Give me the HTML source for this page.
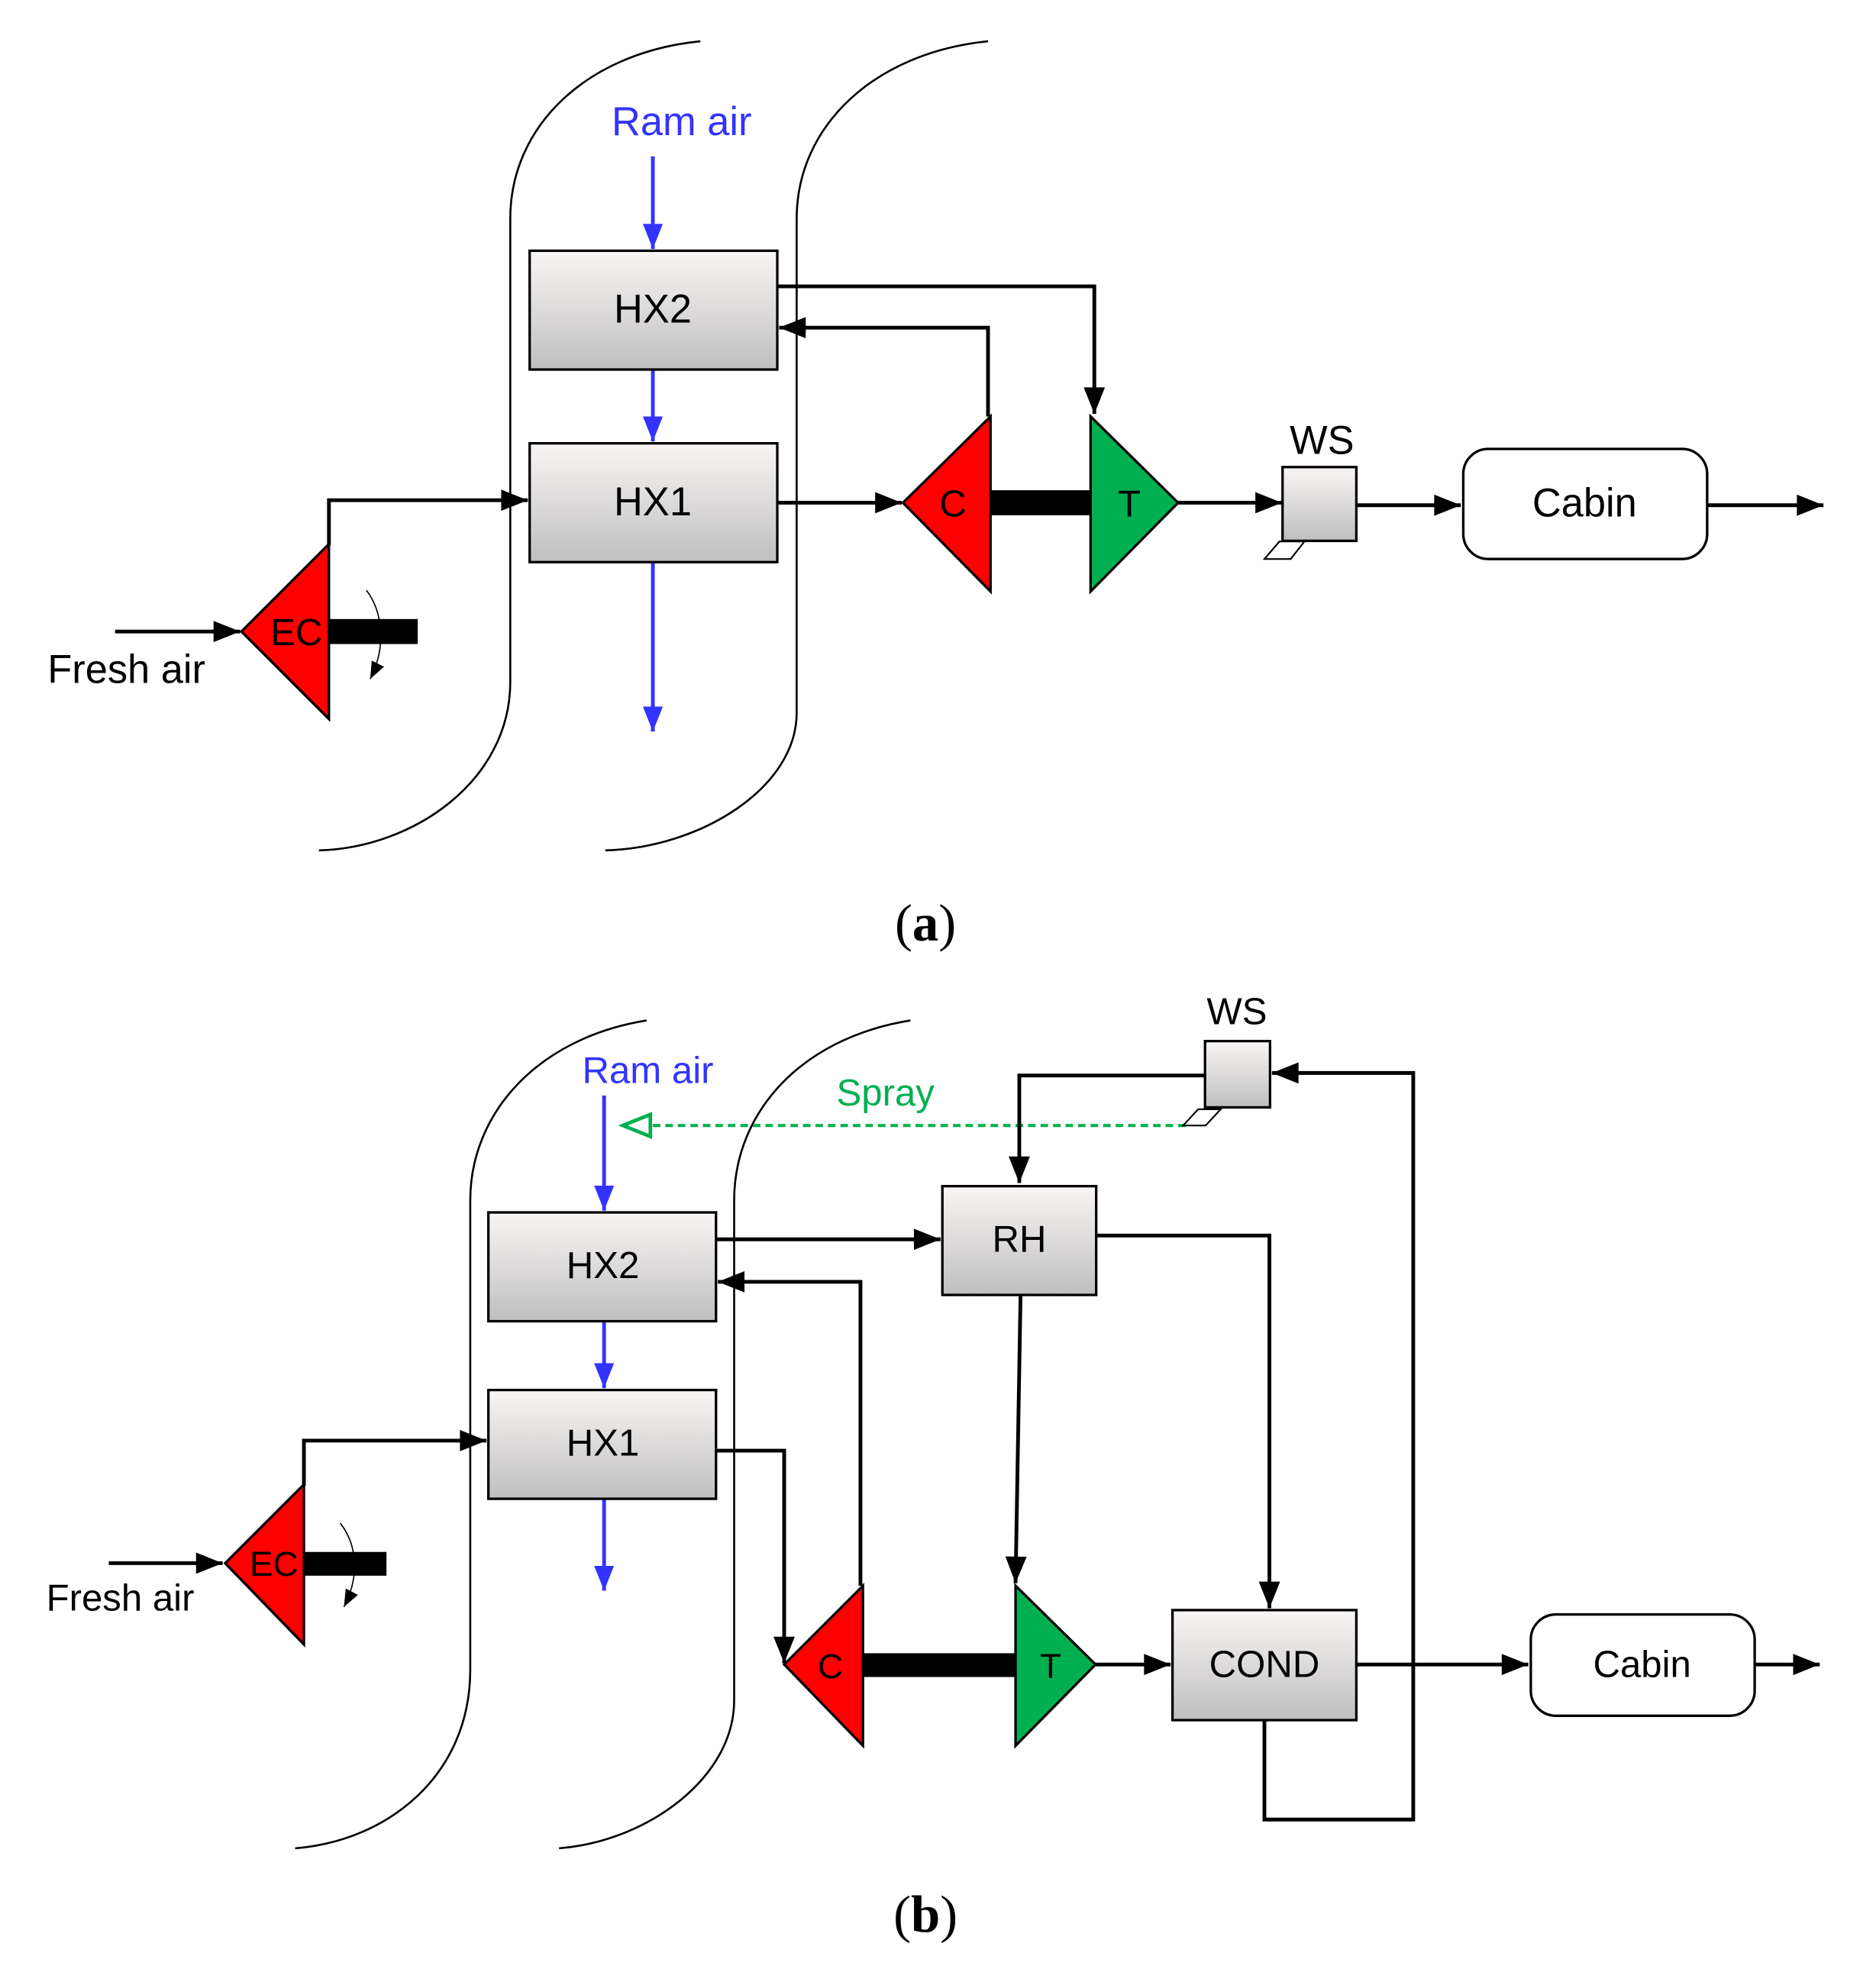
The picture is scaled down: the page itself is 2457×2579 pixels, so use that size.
<!DOCTYPE html>
<html><head><meta charset="utf-8"><style>html,body{margin:0;padding:0;background:#fff}svg{display:block}</style></head>
<body>
<svg xmlns="http://www.w3.org/2000/svg" width="2457" height="2579" viewBox="0 0 1500 1574.5" font-family="'Liberation Sans', 'DejaVu Sans', sans-serif">
<defs>
<linearGradient id="g" x1="0" y1="0" x2="0" y2="1"><stop offset="0" stop-color="#faf5f5"/><stop offset="1" stop-color="#bfbfbf"/></linearGradient>
<marker id="ak" viewBox="0 0 10 8" refX="10" refY="4" markerWidth="24" markerHeight="17" orient="auto" markerUnits="userSpaceOnUse"><path d="M0,0 L10,4 L0,8 Z" fill="#000"/></marker>
<marker id="ab" viewBox="0 0 10 8" refX="10" refY="4" markerWidth="20" markerHeight="16" orient="auto" markerUnits="userSpaceOnUse"><path d="M0,0 L10,4 L0,8 Z" fill="#3333ff"/></marker>
<marker id="ag" viewBox="-1 -1 12 10" refX="10" refY="4" markerWidth="30" markerHeight="22" orient="auto" markerUnits="userSpaceOnUse"><path d="M0,0 L10,4 L0,8 Z" fill="#fff" stroke="#00b050" stroke-width="1.3"/></marker>
<marker id="as" viewBox="0 0 10 8" refX="10" refY="4" markerWidth="14" markerHeight="11" orient="auto" markerUnits="userSpaceOnUse"><path d="M0,0 L10,4 L0,8 Z" fill="#000"/></marker>
</defs>
<g fill="none" stroke="#000" stroke-width="1.6">
<path d="M560,33 C470,42 408,100 408,175 L408,545 C408,625 330,678 255,680"/>
<path d="M790,33 C700,42 637,100 637,175 L637,570 C637,630 560,678 484,680"/>
<path d="M517,816 C430,830 376,890 376,960 L376,1335 C376,1420 310,1472 236,1478"/>
<path d="M728,816 C640,830 587,890 587,960 L587,1360 C587,1420 520,1472 447,1478"/>
</g>
<!-- (a) -->
<text x="545" y="108" font-size="32" fill="#3333ff" text-anchor="middle">Ram air</text>
<g stroke="#3333ff" stroke-width="3" fill="none">
<line x1="522" y1="125" x2="522" y2="199" marker-end="url(#ab)"/>
<line x1="522" y1="296" x2="522" y2="353" marker-end="url(#ab)"/>
<line x1="522" y1="450" x2="522" y2="585" marker-end="url(#ab)"/>
</g>
<rect x="423.5" y="200.5" width="198" height="95" fill="url(#g)" stroke="#000" stroke-width="2"/>
<rect x="423.5" y="354.5" width="198" height="95" fill="url(#g)" stroke="#000" stroke-width="2"/>
<text x="522" y="258" font-size="32" text-anchor="middle">HX2</text>
<text x="522" y="412" font-size="32" text-anchor="middle">HX1</text>
<g stroke="#000" stroke-width="3" fill="none">
<polyline points="622,229 875,229 875,331" marker-end="url(#ak)"/>
<polyline points="790,333 790,262 623,262" marker-end="url(#ak)"/>
<line x1="622" y1="402" x2="721" y2="402" marker-end="url(#ak)"/>
<line x1="942" y1="402" x2="1025" y2="402" marker-end="url(#ak)"/>
<line x1="1085" y1="404" x2="1168" y2="404" marker-end="url(#ak)"/>
<line x1="1365" y1="404" x2="1458" y2="404" marker-end="url(#ak)"/>
<line x1="92" y1="505" x2="192" y2="505" marker-end="url(#ak)"/>
<polyline points="263,436 263,400 422,400" marker-end="url(#ak)"/>
</g>
<polygon points="722,402 792,333 792,473" fill="#ff0000" stroke="#000" stroke-width="2"/>
<rect x="792" y="392" width="80" height="20" fill="#000"/>
<polygon points="872,333 872,473 942,402" fill="#00b050" stroke="#000" stroke-width="2"/>
<text x="762" y="413" font-size="30" text-anchor="middle">C</text>
<text x="903" y="413" font-size="30" text-anchor="middle">T</text>
<rect x="1025.5" y="373.5" width="59" height="59" fill="url(#g)" stroke="#000" stroke-width="2"/>
<polygon points="1011,447 1023,433 1043,433 1032,447" fill="#fff" stroke="#000" stroke-width="1.3"/>
<text x="1057" y="363" font-size="32" text-anchor="middle">WS</text>
<rect x="1170" y="359" width="195" height="88" rx="20" fill="#fff" stroke="#000" stroke-width="2"/>
<text x="1267" y="413" font-size="32" text-anchor="middle">Cabin</text>
<polygon points="193,505 263,435 263,575" fill="#ff0000" stroke="#000" stroke-width="2"/>
<rect x="263" y="495" width="71" height="20" fill="#000"/>
<text x="237" y="516" font-size="30" text-anchor="middle">EC</text>
<text x="38" y="546" font-size="32">Fresh air</text>
<path d="M293,472 C305,488 310,515 296,543" fill="none" stroke="#000" stroke-width="1" marker-end="url(#as)"/>
<text x="740" y="752" font-size="42" text-anchor="middle" font-family="'Liberation Serif', serif">(<tspan font-weight="bold">a</tspan>)</text>
<!-- (b) -->
<text x="518" y="866" font-size="30" fill="#3333ff" text-anchor="middle">Ram air</text>
<g stroke="#3333ff" stroke-width="3" fill="none">
<line x1="483" y1="876" x2="483" y2="968" marker-end="url(#ab)"/>
<line x1="483" y1="1057" x2="483" y2="1110" marker-end="url(#ab)"/>
<line x1="483" y1="1199" x2="483" y2="1272" marker-end="url(#ab)"/>
</g>
<line x1="948" y1="900" x2="498" y2="900" stroke="#00b050" stroke-width="2.5" stroke-dasharray="6,4" marker-end="url(#ag)"/>
<text x="708" y="884" font-size="30" fill="#00b050" text-anchor="middle">Spray</text>
<rect x="390.5" y="969.5" width="182" height="87" fill="url(#g)" stroke="#000" stroke-width="2"/>
<rect x="390.5" y="1111.5" width="182" height="87" fill="url(#g)" stroke="#000" stroke-width="2"/>
<text x="482" y="1022" font-size="30" text-anchor="middle">HX2</text>
<text x="482" y="1164" font-size="30" text-anchor="middle">HX1</text>
<rect x="753.5" y="948.5" width="123" height="87" fill="url(#g)" stroke="#000" stroke-width="2"/>
<text x="815" y="1001" font-size="30" text-anchor="middle">RH</text>
<rect x="963.5" y="832.5" width="52" height="53" fill="url(#g)" stroke="#000" stroke-width="2"/>
<polygon points="946,900 958,887 976,887 964,900" fill="#fff" stroke="#000" stroke-width="1.3"/>
<text x="989" y="819" font-size="30" text-anchor="middle">WS</text>
<rect x="937.5" y="1287.5" width="147" height="88" fill="url(#g)" stroke="#000" stroke-width="2"/>
<text x="1011" y="1341" font-size="30" text-anchor="middle">COND</text>
<rect x="1224" y="1291" width="179" height="81" rx="20" fill="#fff" stroke="#000" stroke-width="2"/>
<text x="1313" y="1341" font-size="30" text-anchor="middle">Cabin</text>
<g stroke="#000" stroke-width="3" fill="none">
<polyline points="963,860 815,860 815,946" marker-end="url(#ak)"/>
<line x1="573" y1="991" x2="752" y2="991" marker-end="url(#ak)"/>
<polyline points="688,1268 688,1025 574,1025" marker-end="url(#ak)"/>
<line x1="816" y1="1036" x2="812" y2="1266" marker-end="url(#ak)"/>
<polyline points="877,988 1015,988 1015,1286" marker-end="url(#ak)"/>
<polyline points="573,1160 627,1160 627,1330" marker-end="url(#ak)"/>
<line x1="876" y1="1331" x2="936" y2="1331" marker-end="url(#ak)"/>
<line x1="1085" y1="1331" x2="1222" y2="1331" marker-end="url(#ak)"/>
<line x1="1403" y1="1331" x2="1455" y2="1331" marker-end="url(#ak)"/>
<polyline points="1011,1376 1011,1455 1130,1455 1130,858 1017,858" marker-end="url(#ak)"/>
<line x1="87" y1="1250" x2="178" y2="1250" marker-end="url(#ak)"/>
<polyline points="243,1188 243,1152 389,1152" marker-end="url(#ak)"/>
</g>
<polygon points="627,1331 690,1268 690,1396" fill="#ff0000" stroke="#000" stroke-width="2"/>
<rect x="690" y="1322" width="122" height="19" fill="#000"/>
<polygon points="812,1268 812,1396 876,1331" fill="#00b050" stroke="#000" stroke-width="2"/>
<text x="664" y="1342" font-size="28" text-anchor="middle">C</text>
<text x="840" y="1342" font-size="28" text-anchor="middle">T</text>
<polygon points="180,1250 243,1187 243,1315" fill="#ff0000" stroke="#000" stroke-width="2"/>
<rect x="243" y="1241" width="66" height="19" fill="#000"/>
<text x="219" y="1260" font-size="28" text-anchor="middle">EC</text>
<text x="37" y="1288" font-size="30">Fresh air</text>
<path d="M272,1218 C284,1233 289,1258 275,1285" fill="none" stroke="#000" stroke-width="1" marker-end="url(#as)"/>
<text x="740" y="1545" font-size="42" text-anchor="middle" font-family="'Liberation Serif', serif">(<tspan font-weight="bold">b</tspan>)</text>
</svg>
</body></html>
